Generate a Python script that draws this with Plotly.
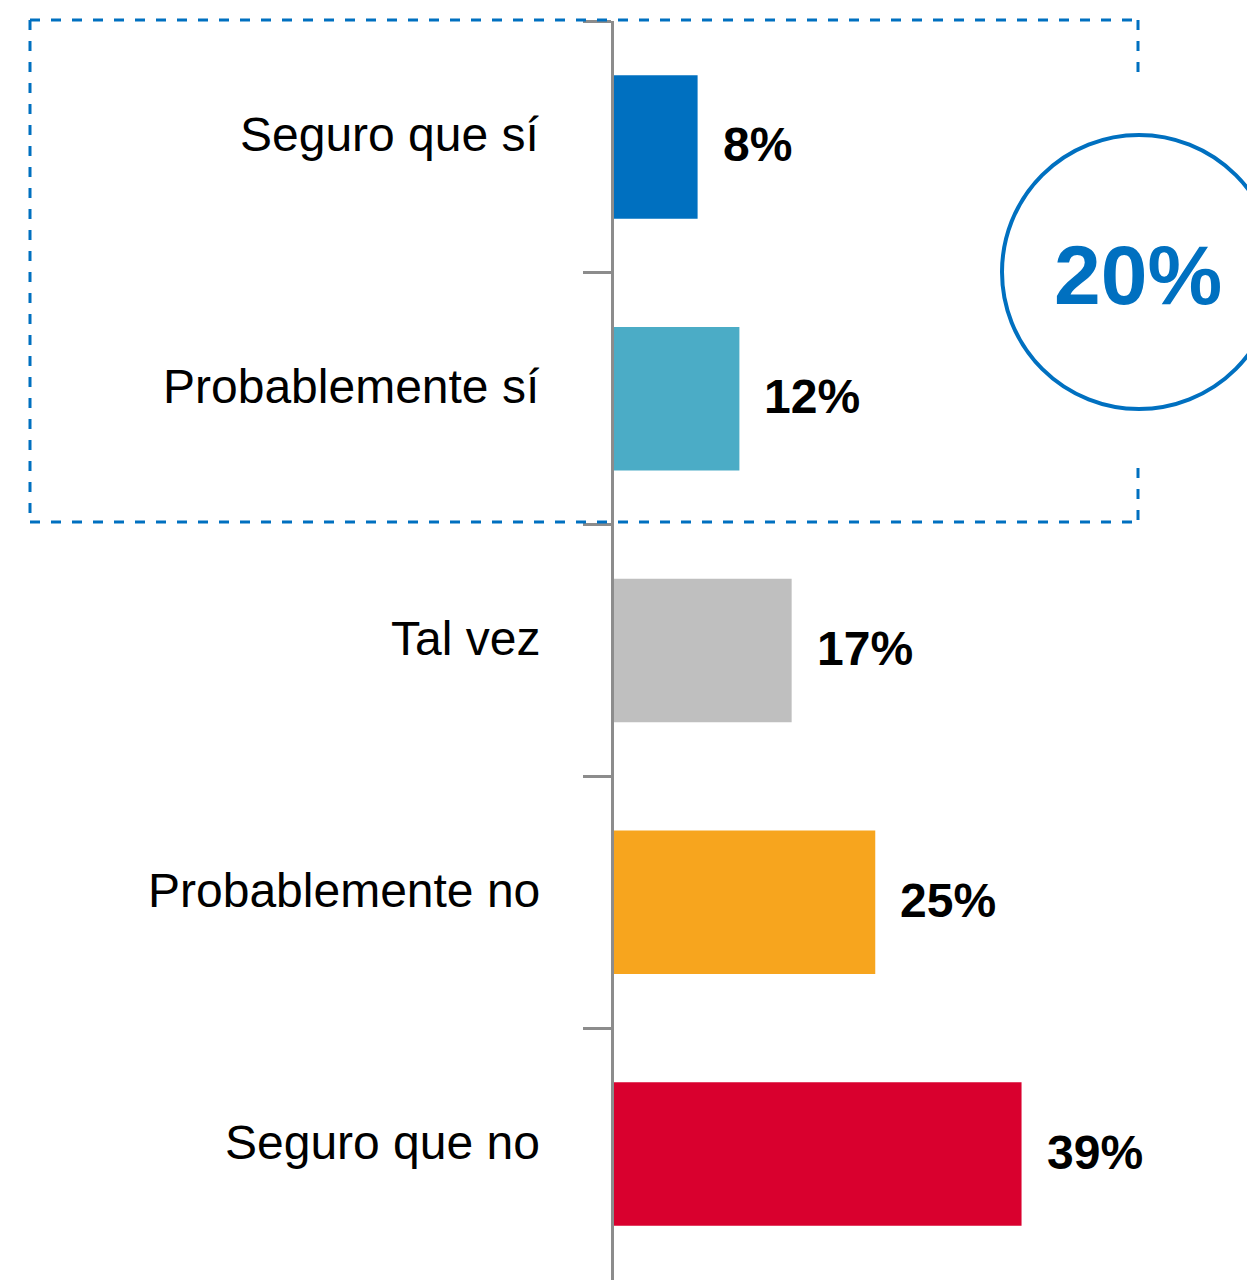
import plotly.graph_objects as go

categories = ["Seguro que sí", "Probablemente sí", "Tal vez", "Probablemente no", "Seguro que no"]
values = [8, 12, 17, 25, 39]
value_labels = ["8%", "12%", "17%", "25%", "39%"]
bar_colors = ["#0070C0", "#4BACC6", "#BFBFBF", "#F7A51E", "#D9002E"]
summary_label = "20%"

# page has an 8px body margin; figure coords = page coords - 8
OFF = 8
W, H = 1255 - OFF, 1280 - OFF
ML, MR, MT, MB = 614 - OFF, 0, 21 - OFF, 0
PW, PH = W - ML - MR, H - MT - MB

def px(x):
    return (x - OFF - ML) / PW

def py(y):
    return (H - MB - (y - OFF)) / PH

fig = go.Figure()
fig.add_trace(go.Bar(
    x=values, y=categories, orientation="h",
    marker=dict(color=bar_colors, line=dict(width=0)),
    hoverinfo="skip", showlegend=False,
))

annotations = []
for c, v, t in zip(categories, values, value_labels):
    annotations.append(dict(
        x=v, y=c, xref="x", yref="y", text=t, showarrow=False,
        xanchor="left", yanchor="middle", xshift=23, yshift=2,
        font=dict(family="Liberation Sans, Arial", size=48, color="#000000", weight="bold"),
    ))
for c in categories:
    annotations.append(dict(
        x=0, y=c, xref="paper", yref="y", text=c, showarrow=False,
        xanchor="right", yanchor="middle", xshift=-72, yshift=12,
        font=dict(family="Liberation Sans, Arial", size=48, color="#000000"),
    ))
annotations.append(dict(
    x=px(1138), y=py(275), xref="paper", yref="paper", text=summary_label,
    showarrow=False, xanchor="center", yanchor="middle",
    font=dict(family="Liberation Sans, Arial", size=84, color="#0070C0", weight="bold"),
))

dash_line = dict(color="#0070C0", width=3, dash="10px,11px")
shapes = []
segs = [
    (30, 20, 1138, 20),
    (30, 20, 30, 522),
    (30, 522, 1138, 522),
    (1138, 20, 1138, 80),
    (1138, 468, 1138, 522),
]
for x0, y0, x1, y1 in segs:
    shapes.append(dict(type="line", xref="paper", yref="paper",
                       x0=px(x0), y0=py(y0), x1=px(x1), y1=py(y1),
                       line=dash_line, layer="above"))
shapes.append(dict(type="circle", xref="paper", yref="paper",
                   x0=px(1002), y0=py(409), x1=px(1276), y1=py(135),
                   line=dict(color="#0070C0", width=4), fillcolor="rgba(0,0,0,0)"))

fig.update_layout(
    width=W, height=H,
    margin=dict(l=ML, r=MR, t=MT, b=MB),
    paper_bgcolor="white", plot_bgcolor="white",
    bargap=0.43,
    annotations=annotations,
    shapes=shapes,
    xaxis=dict(range=[0, PW / 10.45], showgrid=False, zeroline=False,
               showticklabels=False, showline=False, ticks=""),
    yaxis=dict(autorange="reversed", showgrid=False, zeroline=False,
               showline=True, linecolor="#8C8C8C", linewidth=3,
               ticks="outside", tickson="boundaries", ticklen=28,
               tickcolor="#8C8C8C", tickwidth=3, showticklabels=False),
)

fig.write_html("out.html")
